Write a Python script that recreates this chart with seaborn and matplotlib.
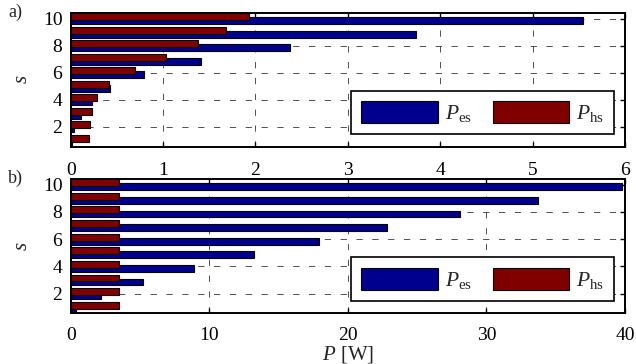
import numpy as np
import pandas as pd
import matplotlib
matplotlib.use("Agg")
import matplotlib.pyplot as plt
import seaborn as sns

# ---- data ----
s_vals = [1, 2, 3, 4, 5, 6, 7, 8, 9, 10]
es_a = [0.01, 0.04, 0.11, 0.23, 0.43, 0.79, 1.41, 2.37, 3.74, 5.55]
hs_a = [0.20, 0.21, 0.23, 0.29, 0.415, 0.70, 1.03, 1.375, 1.68, 1.93]
es_b = [0.38, 2.2, 5.2, 8.9, 13.2, 17.9, 22.8, 28.1, 33.7, 39.8]
hs_b = [3.5, 3.5, 3.5, 3.5, 3.5, 3.5, 3.5, 3.5, 3.5, 3.5]
xticks_a = [0, 1, 2, 3, 4, 5, 6]
xticks_b = [0, 10, 20, 30, 40]
yticks = [2, 4, 6, 8, 10]
panel_labels = ["a)", "b)"]
series_labels = [r"$P_{\rm es}$", r"$P_{\rm hs}$"]

sns.set_style("ticks")
plt.rcParams["font.family"] = ["Liberation Serif", "DejaVu Serif"]
plt.rcParams["mathtext.fontset"] = "custom"
plt.rcParams["mathtext.rm"] = "Liberation Serif"
plt.rcParams["mathtext.it"] = "Liberation Serif:italic"
plt.rcParams["mathtext.bf"] = "Liberation Serif:bold"

BLUE = "#00008F"
RED = "#800000"

fig = plt.figure(figsize=(6.36, 3.64), dpi=100)
W, H = 636, 364
def axrect(l, r, t, b):
    return [l / W, 1 - b / H, (r - l) / W, (b - t) / H]

ax_a = fig.add_axes(axrect(70.7, 625.0, 13.0, 146.5))
ax_b = fig.add_axes(axrect(70.7, 625.0, 179.0, 313.3))

def draw(ax, es, hs, xticks, label, legend_box, xpad):
    df = pd.DataFrame({"s": s_vals, "es": es, "hs": hs})
    df["y_es"] = df["s"] - 0.15
    df["y_hs"] = df["s"] + 0.15
    ax.set_axisbelow(True)
    sns.barplot(data=df, x="es", y="y_es", orient="h", native_scale=True,
                width=0.5, color=BLUE, saturation=1, edgecolor="black",
                linewidth=0.8, label=series_labels[0], ax=ax, zorder=2)
    sns.barplot(data=df, x="hs", y="y_hs", orient="h", native_scale=True,
                width=0.5, color=RED, saturation=1, edgecolor="black",
                linewidth=0.8, label=series_labels[1], ax=ax, zorder=3)
    ax.set_xlim(xticks[0], xticks[-1])
    ax.set_ylim(0.55, 10.42)
    ax.set_xticks(xticks)
    ax.set_yticks(yticks)
    ax.set_xticklabels([str(t) for t in xticks])
    ax.set_yticklabels([str(t) for t in yticks])
    ax.grid(True, color="0.2", linestyle=(0, (7.5, 11.5)), linewidth=0.6)
    for sp in ax.spines.values():
        sp.set_visible(True)
        sp.set_linewidth(1.4)
        sp.set_color("black")
    ax.tick_params(direction="in", length=3.6, width=1, top=True, right=True,
                   labelsize=14, colors="black")
    ax.tick_params(axis="x", pad=xpad)
    ax.tick_params(axis="y", pad=6)
    ax.set_ylabel("$s$", fontsize=15, labelpad=8)
    ax.set_xlabel("")
    h, l = ax.get_legend_handles_labels()
    leg = ax.legend(h, l, ncol=2, loc="lower right",
                    bbox_to_anchor=(legend_box[0] / W, 1 - legend_box[1] / H),
                    bbox_transform=fig.transFigure, borderaxespad=0,
                    fontsize=15.5, frameon=True, fancybox=False, shadow=False,
                    handlelength=3.55, handleheight=1.2, handletextpad=0.32,
                    columnspacing=0.97, borderpad=0.47)
    leg.get_frame().set_edgecolor("black")
    leg.get_frame().set_linewidth(1.2)
    leg.get_frame().set_alpha(1)
    fig.text(8 / W, 1 - (legend_box[2]) / H, label, fontsize=13,
             ha="left", va="top")

draw(ax_a, es_a, hs_a, xticks_a, panel_labels[0], (614.3, 134.3, 4), 11.5)
draw(ax_b, es_b, hs_b, xticks_b, panel_labels[1], (614.3, 301.0, 170), 10)
ax_b.set_xlabel("$P$ [W]", fontsize=15, labelpad=0)

fig.savefig("out.png", dpi=100)
